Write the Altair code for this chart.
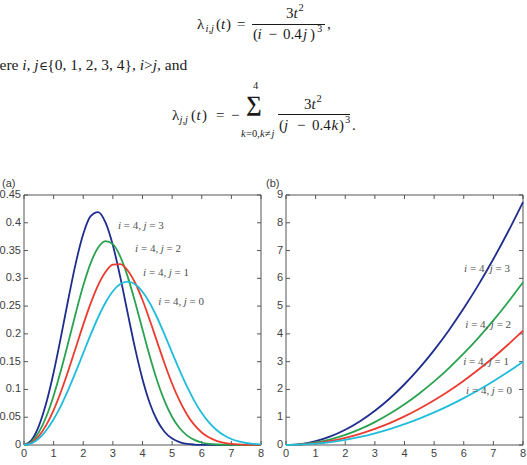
import altair as alt
import pandas as pd

# ---------------- data ----------------
t_a = [0, 0.25, 0.5, 0.75, 1, 1.25, 1.5, 1.75, 2, 2.25, 2.5, 2.75, 3, 3.25, 3.5, 3.75,
       4, 4.25, 4.5, 4.75, 5, 5.25, 5.5, 5.75, 6, 6.25, 6.5, 6.75, 7, 7.25, 7.5, 7.75, 8]
fa_j3 = [0, 0.0085, 0.0340, 0.0754, 0.1306, 0.1954, 0.2637, 0.3279, 0.3797, 0.4118, 0.4192,
         0.4007, 0.3595, 0.3022, 0.2374, 0.1739, 0.1185, 0.0748, 0.0436, 0.0234, 0.0115,
         0.0052, 0.0021, 0.0008, 0.0003, 0.0001, 0, 0, 0, 0, 0, 0, 0]
fa_j2 = [0, 0.0057, 0.0228, 0.0508, 0.0888, 0.1348, 0.1858, 0.2381, 0.2869, 0.3274, 0.3552,
         0.3670, 0.3615, 0.3392, 0.3031, 0.2575, 0.2078, 0.1589, 0.1149, 0.0785, 0.0505,
         0.0305, 0.0173, 0.0092, 0.0045, 0.0021, 0.0009, 0.0004, 0.0001, 0, 0, 0, 0]
fa_j1 = [0, 0.0040, 0.0160, 0.0358, 0.0629, 0.0964, 0.1346, 0.1756, 0.2167, 0.2550, 0.2875,
         0.3114, 0.3245, 0.3254, 0.3142, 0.2920, 0.2610, 0.2241, 0.1847, 0.1459, 0.1103,
         0.0797, 0.0550, 0.0361, 0.0226, 0.0134, 0.0076, 0.0040, 0.0020, 0.0010, 0.0004,
         0.0002, 0.0001]
fa_j0 = [0, 0.0029, 0.0117, 0.0262, 0.0462, 0.0710, 0.1001, 0.1320, 0.1655, 0.1986, 0.2295,
         0.2561, 0.2767, 0.2896, 0.2939, 0.2892, 0.2759, 0.2552, 0.2286, 0.1982, 0.1662,
         0.1347, 0.1054, 0.0795, 0.0577, 0.0404, 0.0271, 0.0175, 0.0108, 0.0064, 0.0036,
         0.0020, 0.0010]

t_b = [0, 0.5, 1, 1.5, 2, 2.5, 3, 3.5, 4, 4.5, 5, 5.5, 6, 6.5, 7, 7.5, 8]
fb_j3 = [0, 0.034, 0.137, 0.308, 0.547, 0.854, 1.230, 1.674, 2.187, 2.767, 3.417, 4.134,
         4.920, 5.774, 6.696, 7.687, 8.746]
fb_j2 = [0, 0.023, 0.092, 0.206, 0.366, 0.572, 0.824, 1.122, 1.465, 1.854, 2.289, 2.770,
         3.296, 3.868, 4.486, 5.150, 5.859]
fb_j1 = [0, 0.016, 0.064, 0.145, 0.257, 0.402, 0.579, 0.788, 1.029, 1.302, 1.608, 1.945,
         2.315, 2.717, 3.151, 3.617, 4.115]
fb_j0 = [0, 0.012, 0.047, 0.105, 0.188, 0.293, 0.422, 0.574, 0.750, 0.949, 1.172, 1.418,
         1.688, 1.980, 2.297, 2.637, 3.000]

series = ["i = 4, j = 3", "i = 4, j = 2", "i = 4, j = 1", "i = 4, j = 0"]
j_vals = ["3", "2", "1", "0"]
colors = ["#1e2d8e", "#2aa350", "#ec3b2f", "#20bddb"]

x_ticks = [0, 1, 2, 3, 4, 5, 6, 7, 8]
ya_ticks = [0, 0.05, 0.1, 0.15, 0.2, 0.25, 0.3, 0.35, 0.4, 0.45]
ya_labels = ["0", "0.05", "0.1", "0.15", "0.2", "0.25", "0.3", "0.35", "0.4", "0.45"]
yb_ticks = [0, 1, 2, 3, 4, 5, 6, 7, 8, 9]
yb_labels = ["0", "1", "2", "3", "4", "5", "6", "7", "8", "9"]

# curve-label anchors (data coordinates)
lab_a_t = [3.17, 3.75, 4.02, 4.53]
lab_a_y = [0.394, 0.353, 0.310, 0.257]
lab_b_t = [6.01, 6.05, 5.98, 6.08]
lab_b_y = [6.33, 4.32, 2.99, 1.94]

# ---------------- styling / layout ----------------
SANS = "Liberation Sans"
SERIF = "Liberation Serif"
FRAME = "#555555"
TICKLAB = "#404040"
TXT = "#1a1a1a"
CLAB = "#505050"
PA_X = [24, 261]
PB_X = [286, 523]
P_Y = [445, 195]


def sx(rng):
    return alt.Scale(domain=[0, 8], range=rng, nice=False, zero=False)


def sy(top):
    return alt.Scale(domain=[0, top], range=P_Y, nice=False, zero=False)


def panel(t, ys, x_rng, ytop, yticks, ylabels, lab_t, lab_y, ylab_x):
    X = lambda f: alt.X(f, scale=sx(x_rng), axis=None)
    Y = lambda f: alt.Y(f, scale=sy(ytop), axis=None)
    layers = []
    x0, x1 = x_rng
    y0, y1 = P_Y
    frame = pd.DataFrame({"a": [0], "b": [8], "c": [0], "d": [ytop]})
    layers.append(alt.Chart(frame).mark_rect(fillOpacity=0, stroke=FRAME, strokeWidth=1)
                  .encode(x=X("a:Q"), x2="b:Q", y=Y("c:Q"), y2="d:Q"))
    dxt = pd.DataFrame({"v": x_ticks, "lab": [str(v) for v in x_ticks]})
    dyt = pd.DataFrame({"v": yticks, "lab": ylabels})
    for ya, yb in [(y0, y0 - 4), (y1, y1 + 4)]:
        layers.append(alt.Chart(dxt).mark_rule(color=FRAME, strokeWidth=1)
                      .encode(x=X("v:Q"), y=alt.value(ya), y2=alt.value(yb)))
    for xa, xb in [(x0, x0 + 4), (x1 - 4, x1)]:
        layers.append(alt.Chart(dyt).mark_rule(color=FRAME, strokeWidth=1)
                      .encode(y=Y("v:Q"), x=alt.value(xa), x2=alt.value(xb)))
    layers.append(alt.Chart(dxt).mark_text(font=SANS, fontSize=11, color=TICKLAB,
                                           align="center", baseline="middle")
                  .encode(x=X("v:Q"), y=alt.value(454), text="lab:N"))
    layers.append(alt.Chart(dyt).mark_text(font=SANS, fontSize=11, color=TICKLAB,
                                           align="right", baseline="middle")
                  .encode(x=alt.value(ylab_x), y=Y("v:Q"), text="lab:N"))
    rows = []
    for name, vals in zip(series, ys):
        for tt, v in zip(t, vals):
            rows.append({"t": tt, "v": v, "s": name})
    df = pd.DataFrame(rows)
    layers.append(alt.Chart(df).mark_line(strokeWidth=1.8, interpolate="monotone")
                  .encode(x=X("t:Q"), y=Y("v:Q"),
                          color=alt.Color("s:N", scale=alt.Scale(domain=series, range=colors),
                                          legend=None)))
    dl = pd.DataFrame({"t": lab_t, "y": lab_y, "j": ["= " + j for j in j_vals]})
    fs = 11
    segs = [("i", "italic", 0), ("= 4,", "normal", 5.9), ("j", "italic", 25.6),
            (None, "normal", 31.4)]
    for txt, style, dx in segs:
        text_enc = alt.value(txt) if txt is not None else alt.Text("j:N")
        layers.append(alt.Chart(dl).mark_text(font=SERIF, fontSize=fs, fontStyle=style,
                                              color=CLAB, align="left", baseline="middle",
                                              dx=dx)
                      .encode(x=X("t:Q"), y=Y("y:Q"), text=text_enc))
    return layers


layers = []
layers += panel(t_a, [fa_j3, fa_j2, fa_j1, fa_j0], PA_X, 0.45, ya_ticks, ya_labels,
                lab_a_t, lab_a_y, 21)
layers += panel(t_b, [fb_j3, fb_j2, fb_j1, fb_j0], PB_X, 9, yb_ticks, yb_labels,
                lab_b_t, lab_b_y, 283)

# panel tags
tags = pd.DataFrame({"px": [2, 266], "py": [184, 184], "txt": ["(a)", "(b)"]})
layers.append(alt.Chart(tags).mark_text(font=SANS, fontSize=11, color=TICKLAB, align="left",
                                        baseline="middle")
              .encode(x=alt.X("px:Q", scale=None, axis=None),
                      y=alt.Y("py:Q", scale=None, axis=None), text="txt:N"))

# ---------------- text above the panels ----------------
W_N = {' ': 250, '(': 333, ')': 333, ',': 250, '.': 250, '=': 564, '\u2212': 564, '>': 564,
       '{': 480, '}': 480, '\u2208': 560, 'a': 444, 'n': 500, 'd': 500, 'e': 444, 'r': 333}
W_I = {'i': 278, 'j': 278, 't': 278, 'k': 444, ',': 250}


def seq(parts, x, y, size):
    out = []
    for txt, kind in parts:
        table = W_I if kind == 1 else W_N
        lead = len(txt) - len(txt.lstrip(' '))
        xx = x + lead * 250 * size / 1000
        out.append((txt.strip(' '), xx, y, kind))
        x += sum(table.get(c, 500) for c in txt) * size / 1000
    return out


PROSE_SIZE = 15.5
prose = seq([("ere ", 0), ("i,", 1), (" ", 0), ("j", 1), ("\u2208", 2),
             ("{0, 1, 2, 3, 4}, ", 0), ("i", 1), (">", 0), ("j,", 1), (" and", 0)],
            -0.5, 70, PROSE_SIZE)

big_n = [("\u03bb", 197, 29), ("(", 216, 29), (")", 226, 29), ("=", 237, 29),
         ("3", 286, 18), ("(", 253, 39), ("\u2212", 268.5, 39), ("0.4", 283, 39), (")", 310, 39),
         (",", 327, 29),
         ("\u03bb", 172, 120), ("(", 191, 120), (")", 202, 120), ("=", 216, 120),
         ("\u2212", 231, 120), ("3", 304, 109), ("(", 279, 130), ("\u2212", 297, 130),
         ("0.4", 312, 130), (")", 339, 130), (".", 352, 130)]
big_i = [("t", 221, 29), ("t", 293.5, 18), ("i", 257.5, 39), ("j", 303, 39),
         ("t", 196.5, 120), ("t", 311.5, 109), ("j", 284, 130), ("k", 331.5, 130)]
small_n = [("2", 298.5, 11), ("3", 317, 32), ("4", 253, 89), ("=0,", 246, 137),
           ("\u2260", 265, 137), ("2", 316.5, 102), ("3", 345, 123)]
small_i = [("i,j", 205.5, 32), ("j,j", 179.5, 123), ("k", 241, 137), ("k", 260, 137),
           ("j", 271.5, 137)]
sigma = [("\u2211", 246, 111)]


def text_layer(items, size, style, font=SERIF, weight="normal"):
    df = pd.DataFrame({"txt": [a for a, _, _ in items], "px": [b for _, b, _ in items],
                       "py": [c for _, _, c in items]})
    return (alt.Chart(df).mark_text(font=font, fontSize=size, fontStyle=style, color=TXT,
                                    fontWeight=weight, align="left", baseline="alphabetic")
            .encode(x=alt.X("px:Q", scale=None, axis=None),
                    y=alt.Y("py:Q", scale=None, axis=None), text="txt:N"))


layers.append(text_layer([(a, b, c) for a, b, c, k in prose if k == 0], PROSE_SIZE, "normal"))
layers.append(text_layer([(a, b, c) for a, b, c, k in prose if k == 1], PROSE_SIZE, "italic"))
layers.append(text_layer([(a, b + 0.5, c) for a, b, c, k in prose if k == 2], 12, "normal",
                         font="DejaVu Serif"))
layers.append(text_layer(big_n, 15, "normal"))
layers.append(text_layer(big_i, 15, "italic"))
layers.append(text_layer(small_n, 10.5, "normal"))
layers.append(text_layer(small_i, 10.5, "italic"))
layers.append(text_layer(sigma, 22, "normal", weight="bold"))

fr = pd.DataFrame({"x0": [252, 278], "x1": [325, 350], "y": [24.5, 114.5]})
layers.append(alt.Chart(fr).mark_rule(color=TXT, strokeWidth=1)
              .encode(x=alt.X("x0:Q", scale=None, axis=None), x2="x1:Q",
                      y=alt.Y("y:Q", scale=None, axis=None)))

chart = (alt.layer(*layers)
         .resolve_scale(x="independent", y="independent", color="independent")
         .properties(width=527, height=465, padding=0,
                     autosize=alt.AutoSizeParams(type="none"))
         .configure_view(strokeWidth=0))

chart.save("out.html", embed_options={"renderer": "svg", "actions": False})
